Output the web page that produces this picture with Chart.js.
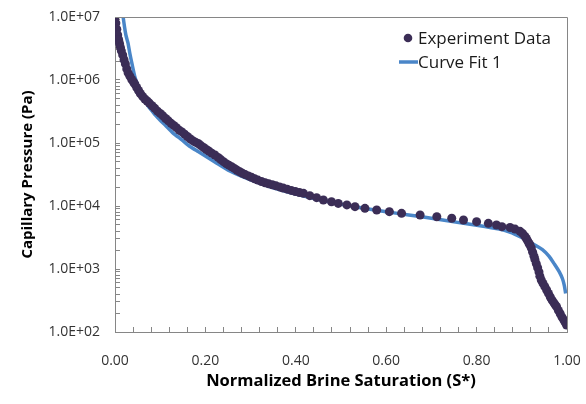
<!DOCTYPE html>
<html>
<head>
<meta charset="utf-8">
<script src="https://cdn.jsdelivr.net/npm/chart.js@4.4.1/dist/chart.umd.min.js"></script>
<style>
  html, body { margin: 0; padding: 0; background: #fff; }
  #wrap { width: 586px; height: 404px; }
</style>
</head>
<body>
<div id="wrap"><canvas id="pcChart" width="586" height="404"></canvas></div>
<script>
// experiment points (S*, Pa)
const expSat = [
  0.000, 0.002, 0.004, 0.006, 0.008, 0.010, 0.012, 0.014, 0.017, 0.020,
  0.023, 0.026, 0.029, 0.033, 0.037, 0.041, 0.044, 0.048, 0.052, 0.056,
  0.061, 0.066, 0.071, 0.076, 0.082, 0.088, 0.094, 0.100, 0.106, 0.112,
  0.118, 0.124, 0.130, 0.136, 0.142, 0.148, 0.154, 0.160, 0.166, 0.172,
  0.178, 0.184, 0.190, 0.196, 0.202, 0.208, 0.214, 0.221, 0.228, 0.234,
  0.240, 0.246, 0.252, 0.258, 0.264, 0.270, 0.276, 0.282, 0.288, 0.295,
  0.302, 0.309, 0.316, 0.324, 0.332, 0.340, 0.348, 0.356, 0.364, 0.372,
  0.381, 0.390, 0.399, 0.408,
  0.417, 0.431, 0.446, 0.461, 0.479, 0.494, 0.513, 0.531, 0.553, 0.579,
  0.607, 0.634, 0.675, 0.712, 0.745, 0.771, 0.800, 0.826, 0.844, 0.856,
  0.874, 0.885, 0.896, 0.902, 0.907, 0.910, 0.913, 0.916, 0.918, 0.921,
  0.924, 0.927, 0.929, 0.932, 0.935, 0.938, 0.940, 0.943, 0.947, 0.951,
  0.955, 0.959, 0.963, 0.967, 0.971, 0.974, 0.977, 0.981, 0.985, 0.989,
  0.993, 0.996, 0.999
];
const expPc = [
  9.8e6, 8.0e6, 6.4e6, 5.2e6, 4.4e6, 3.8e6, 3.3e6, 2.9e6, 2.5e6, 2.1e6,
  1.8e6, 1.5e6, 1.3e6, 1.15e6, 1.02e6, 9.3e5, 8.6e5, 7.6e5, 6.8e5, 6.1e5,
  5.5e5, 5.0e5, 4.65e5, 4.3e5, 3.9e5, 3.55e5, 3.2e5, 2.95e5, 2.7e5, 2.45e5,
  2.25e5, 2.05e5, 1.9e5, 1.75e5, 1.6e5, 1.5e5, 1.38e5, 1.27e5, 1.17e5, 1.09e5,
  1.03e5, 9.8e4, 9.1e4, 8.5e4, 7.9e4, 7.4e4, 6.9e4, 6.45e4, 5.9e4, 5.45e4,
  5.05e4, 4.7e4, 4.45e4, 4.2e4, 3.95e4, 3.7e4, 3.5e4, 3.3e4, 3.15e4, 3.0e4,
  2.85e4, 2.7e4, 2.58e4, 2.45e4, 2.34e4, 2.25e4, 2.17e4, 2.09e4, 2.01e4, 1.93e4,
  1.85e4, 1.77e4, 1.7e4, 1.64e4,
  15900, 14600, 13550, 12450, 11700, 11000, 10400, 9750, 9180, 8650,
  8130, 7650, 7200, 6750, 6400, 6000, 5640, 5300, 5000, 4700,
  4550, 4300, 3960, 3650, 3300, 3050, 2800, 2550, 2400, 2150,
  1850, 1600, 1420, 1220, 1050, 900, 770, 670, 590, 525,
  464, 410, 360, 320, 290, 270, 252, 220, 195, 172,
  155, 142, 129
];

// fitted curve
const fitSat = [
  0.018, 0.021, 0.024, 0.027, 0.029, 0.033, 0.038, 0.044, 0.050, 0.057,
  0.065, 0.073, 0.081, 0.090, 0.100, 0.111, 0.128, 0.148, 0.166, 0.184,
  0.221, 0.254, 0.300, 0.350, 0.400, 0.450, 0.500, 0.550, 0.600, 0.650,
  0.700, 0.750, 0.800, 0.850, 0.875, 0.896, 0.910, 0.925, 0.945, 0.960,
  0.972, 0.983, 0.990, 0.994, 0.997
];
const fitPc = [
  1.0e7, 7.0e6, 5.2e6, 4.3e6, 3.8e6, 2.6e6, 1.75e6, 1.12e6, 8.4e5, 6.4e5,
  4.9e5, 3.9e5, 3.3e5, 2.75e5, 2.3e5, 1.93e5, 1.45e5, 1.12e5, 8.8e4, 7.3e4,
  5.0e4, 3.6e4, 2.6e4, 1.95e4, 1.55e4, 1.27e4, 1.07e4, 9.2e3, 8.1e3, 7.2e3,
  6.4e3, 5.6e3, 4.95e3, 4.3e3, 3.8e3, 3.26e3, 2.9e3, 2.5e3, 2.05e3, 1.6e3,
  1.2e3, 900, 700, 550, 410
];

const seriesNames = ['Experiment Data', 'Curve Fit 1'];
const xLabelTicks = [0, 0.2, 0.4, 0.6, 0.8, 1.0];
const xMinorStep = 0.04;
const yLabelTicks = [1e2, 1e3, 1e4, 1e5, 1e6, 1e7];

const dotColor = '#3b2d56';
const lineColor = '#4a86c8';
const axisGrey = '#868686';
const FONT = "'Open Sans', 'DejaVu Sans', sans-serif";

function sciLabel(v) {
  // Excel style 1.0E+07
  const exp = Math.round(Math.log10(v));
  const mant = (v / Math.pow(10, exp)).toFixed(1);
  const sign = exp < 0 ? '-' : '+';
  return mant + 'E' + sign + String(Math.abs(exp)).padStart(2, '0');
}

function isLabelX(v) {
  return xLabelTicks.some(t => Math.abs(t - v) < 1e-6);
}

// box lines on top/right plus the legend inside the plot
const frameAndLegend = {
  id: 'frameAndLegend',
  afterDraw(chart) {
    const { ctx, chartArea } = chart;
    ctx.save();
    ctx.strokeStyle = axisGrey;
    ctx.lineWidth = 1;
    ctx.beginPath();
    ctx.moveTo(chartArea.left, chartArea.top + 0.5);
    ctx.lineTo(chartArea.right + 0.5, chartArea.top + 0.5);
    ctx.lineTo(chartArea.right + 0.5, chartArea.bottom);
    ctx.stroke();

    ctx.font = '17px ' + FONT;
    ctx.textBaseline = 'middle';
    ctx.beginPath();
    ctx.arc(408, 38, 4.3, 0, Math.PI * 2);
    ctx.fillStyle = dotColor;
    ctx.fill();
    ctx.fillStyle = '#1a1a1a';
    ctx.fillText(chart.data.datasets[0].label, 418, 39);

    ctx.strokeStyle = lineColor;
    ctx.lineWidth = 3.5;
    ctx.beginPath();
    ctx.moveTo(399, 62);
    ctx.lineTo(418, 62);
    ctx.stroke();
    ctx.fillText(chart.data.datasets[1].label, 418, 63);
    ctx.restore();
  }
};

const expPoints = expSat.map((s, i) => ({ x: s, y: expPc[i] }));
const fitPoints = fitSat.map((s, i) => ({ x: s, y: fitPc[i] }));

new Chart(document.getElementById('pcChart'), {
  type: 'scatter',
  data: {
    datasets: [
      {
        label: seriesNames[0],
        data: expPoints,
        backgroundColor: dotColor,
        borderWidth: 0,
        pointRadius: 4.5,
        order: 0
      },
      {
        label: seriesNames[1],
        data: fitPoints,
        showLine: true,
        borderColor: lineColor,
        borderWidth: 3.5,
        pointRadius: 0,
        tension: 0.2,
        order: 1
      }
    ]
  },
  options: {
    responsive: false,
    animation: false,
    layout: { padding: { top: 17, right: 19, left: 0, bottom: 0 } },
    plugins: {
      legend: { display: false },
      tooltip: { enabled: false }
    },
    scales: {
      x: {
        type: 'linear',
        min: 0,
        max: 1,
        afterBuildTicks: (scale) => {
          const ticks = [];
          for (let i = 0; i <= Math.round(1 / xMinorStep); i++) {
            ticks.push({ value: +(i * xMinorStep).toFixed(2) });
          }
          scale.ticks = ticks;
        },
        afterFit: (scale) => {
          scale.height = 72;
          scale.paddingLeft = 0;
          scale.paddingRight = 0;
        },
        border: { color: axisGrey, width: 1 },
        grid: { drawOnChartArea: false, drawTicks: true, tickLength: -5, color: axisGrey },
        ticks: {
          autoSkip: false,
          maxRotation: 0,
          padding: 26,
          color: '#333',
          font: { family: FONT, size: 14 },
          callback: (v) => isLabelX(v) ? Number(v).toFixed(2) : ''
        },
        title: {
          display: true,
          text: 'Normalized Brine Saturation (S*)',
          color: '#000',
          font: { family: FONT, size: 16.5, weight: 'bold' },
          padding: { top: 0, bottom: 13 }
        }
      },
      y: {
        type: 'logarithmic',
        min: 100,
        max: 1e7,
        afterBuildTicks: (scale) => {
          const ticks = [];
          for (let e = 2; e < 7; e++) {
            for (let d = 1; d <= 9; d++) ticks.push({ value: d * Math.pow(10, e) });
          }
          ticks.push({ value: 1e7 });
          scale.ticks = ticks;
        },
        afterFit: (scale) => {
          scale.width = 115;
          scale.paddingTop = 0;
          scale.paddingBottom = 0;
        },
        border: { color: axisGrey, width: 1 },
        grid: { drawOnChartArea: false, drawTicks: true, tickLength: -5, color: axisGrey },
        ticks: {
          autoSkip: false,
          padding: 20,
          color: '#333',
          font: { family: FONT, size: 14 },
          callback: (v) => yLabelTicks.includes(v) ? sciLabel(v) : ''
        },
        title: {
          display: true,
          text: 'Capillary Pressure (Pa)',
          color: '#000',
          font: { family: FONT, size: 15, weight: 'bold' },
          padding: { top: 19, bottom: 0 }
        }
      }
    }
  },
  plugins: [frameAndLegend]
});
</script>
</body>
</html>
